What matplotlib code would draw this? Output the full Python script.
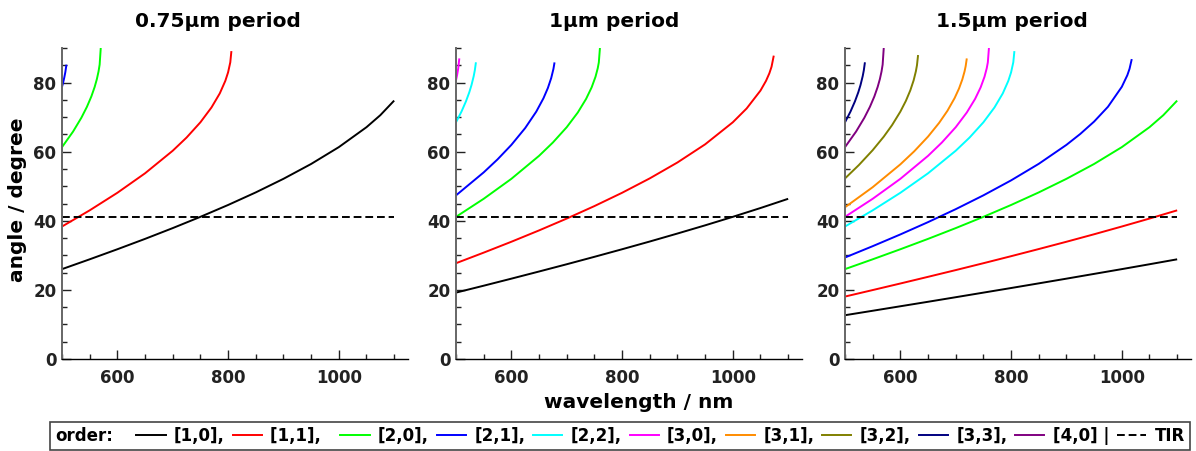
import matplotlib
matplotlib.use("Agg")
import matplotlib.pyplot as plt
from matplotlib.ticker import MultipleLocator
from matplotlib.lines import Line2D
from matplotlib.offsetbox import HPacker

plt.rcParams["font.family"] = ["DejaVu Sans"]
plt.rcParams["font.weight"] = "bold"

# ---------------------------------------------------------------- data
orders = ["[1,0]", "[1,1]", "[2,0]", "[2,1]", "[2,2]",
          "[3,0]", "[3,1]", "[3,2]", "[3,3]", "[4,0]"]
order_colors = ["#000000", "#ff0000", "#00ff00", "#0000ff", "#00ffff",
                "#ff00ff", "#ff8c00", "#808000", "#000080", "#800080"]
period_titles = ["0.75µm period", "1µm period", "1.5µm period"]
tir_deg = 41.1
tir_wl = [500, 1100]

# 0.75 µm period
wl_075_10 = [500, 550, 600, 650, 700, 750, 800, 850, 900, 950, 1000, 1050, 1075, 1100]
deg_075_10 = [26.01, 28.85, 31.76, 34.76, 37.88, 41.14, 44.57, 48.21, 52.14, 56.44, 61.31, 67.08, 70.56, 74.78]
wl_075_11 = [500, 550, 600, 650, 700, 725, 750, 770, 785, 795, 800, 804, 806]
deg_075_11 = [38.34, 43.02, 48.10, 53.74, 60.27, 64.08, 68.50, 72.79, 76.86, 80.49, 82.95, 85.86, 89.10]
wl_075_20 = [500, 520, 535, 545, 553, 559, 563, 566, 568, 570]
deg_075_20 = [61.31, 65.82, 69.82, 72.97, 75.97, 78.73, 81.01, 83.21, 85.20, 90.00]
wl_075_21 = [500, 502, 504, 506, 508]
deg_075_21 = [78.75, 79.96, 81.35, 83.00, 85.18]

# 1 µm period
wl_100_10 = [500, 550, 600, 650, 700, 750, 800, 850, 900, 950, 1000, 1050, 1100]
deg_100_10 = [19.21, 21.21, 23.25, 25.32, 27.42, 29.57, 31.76, 34.00, 36.31, 38.68, 41.14, 43.69, 46.36]
wl_100_11 = [500, 550, 600, 650, 700, 750, 800, 850, 900, 950, 1000, 1025, 1050, 1060, 1066, 1070, 1074]
deg_100_11 = [27.72, 30.78, 33.93, 37.21, 40.64, 44.25, 48.10, 52.27, 56.87, 62.12, 68.50, 72.50, 77.68, 80.49, 82.66, 84.58, 87.79]
wl_100_20 = [500, 550, 600, 650, 675, 700, 720, 735, 745, 752, 756, 758, 760]
deg_100_20 = [41.14, 46.36, 52.14, 58.79, 62.65, 67.08, 71.33, 75.27, 78.60, 81.68, 84.12, 85.84, 90.00]
wl_100_21 = [500, 550, 575, 600, 625, 645, 658, 666, 672, 676, 678]
deg_100_21 = [47.35, 54.00, 57.76, 61.96, 66.84, 71.59, 75.46, 78.44, 81.31, 83.94, 85.83]
wl_100_22 = [500, 510, 518, 524, 528, 532, 534, 536]
deg_100_22 = [68.50, 71.63, 74.57, 77.18, 79.27, 81.87, 83.55, 85.86]
wl_100_30 = [500, 502, 504, 506]
deg_100_30 = [80.67, 82.19, 84.08, 86.99]

# 1.5 µm period
wl_150_10 = [500, 550, 600, 650, 700, 750, 800, 850, 900, 950, 1000, 1050, 1100]
deg_150_10 = [12.67, 13.96, 15.26, 16.56, 17.88, 19.21, 20.54, 21.89, 23.25, 24.63, 26.01, 27.42, 28.85]
wl_150_11 = [500, 550, 600, 650, 700, 750, 800, 850, 900, 950, 1000, 1050, 1100]
deg_150_11 = [18.07, 19.95, 21.85, 23.78, 25.73, 27.72, 29.75, 31.82, 33.93, 36.10, 38.34, 40.64, 43.02]
wl_150_20 = [500, 550, 600, 650, 700, 750, 800, 850, 900, 950, 1000, 1050, 1075, 1100]
deg_150_20 = [26.01, 28.85, 31.76, 34.76, 37.88, 41.14, 44.57, 48.21, 52.14, 56.44, 61.31, 67.08, 70.56, 74.78]
wl_150_21 = [500, 550, 600, 650, 700, 750, 800, 850, 900, 925, 950, 975, 1000, 1010, 1014, 1018]
deg_150_21 = [29.37, 32.65, 36.05, 39.61, 43.36, 47.36, 51.69, 56.48, 61.97, 65.13, 68.71, 72.99, 78.76, 82.13, 83.99, 86.79]
wl_150_22 = [500, 550, 600, 650, 700, 725, 750, 770, 785, 795, 800, 804, 806]
deg_150_22 = [38.34, 43.02, 48.10, 53.74, 60.27, 64.08, 68.50, 72.79, 76.86, 80.49, 82.95, 85.86, 89.10]
wl_150_30 = [500, 550, 600, 650, 675, 700, 720, 735, 745, 752, 756, 758, 760]
deg_150_30 = [41.14, 46.36, 52.14, 58.79, 62.65, 67.08, 71.33, 75.27, 78.60, 81.68, 84.12, 85.84, 90.00]
wl_150_31 = [500, 550, 600, 625, 650, 670, 685, 698, 706, 712, 716, 718, 720]
deg_150_31 = [43.91, 49.72, 56.33, 60.10, 64.36, 68.33, 71.82, 75.50, 78.29, 80.94, 83.25, 84.77, 86.98]
wl_150_32 = [500, 525, 550, 570, 585, 600, 610, 618, 624, 628, 630, 632]
deg_150_32 = [52.25, 56.12, 60.43, 64.34, 67.68, 71.59, 74.71, 77.75, 80.65, 83.24, 85.00, 87.96]
wl_150_33 = [500, 510, 518, 524, 528, 532, 534, 536]
deg_150_33 = [68.50, 71.63, 74.57, 77.18, 79.27, 81.87, 83.55, 85.86]
wl_150_40 = [500, 520, 535, 545, 553, 559, 563, 566, 568, 570]
deg_150_40 = [61.31, 65.82, 69.82, 72.97, 75.97, 78.73, 81.01, 83.21, 85.20, 90.00]

panel_series = [
    [(0, wl_075_10, deg_075_10), (1, wl_075_11, deg_075_11),
     (2, wl_075_20, deg_075_20), (3, wl_075_21, deg_075_21)],
    [(0, wl_100_10, deg_100_10), (1, wl_100_11, deg_100_11),
     (2, wl_100_20, deg_100_20), (3, wl_100_21, deg_100_21),
     (4, wl_100_22, deg_100_22), (5, wl_100_30, deg_100_30)],
    [(0, wl_150_10, deg_150_10), (1, wl_150_11, deg_150_11),
     (2, wl_150_20, deg_150_20), (3, wl_150_21, deg_150_21),
     (4, wl_150_22, deg_150_22), (5, wl_150_30, deg_150_30),
     (6, wl_150_31, deg_150_31), (7, wl_150_32, deg_150_32),
     (8, wl_150_33, deg_150_33), (9, wl_150_40, deg_150_40)],
]

# ---------------------------------------------------------------- figure
W, H = 1196, 451
fig = plt.figure(figsize=(W / 100, H / 100), dpi=100)

ax_left_px = [62, 456, 845]
ax_w_px = 346
ax_bottom_px = 359
ax_top_px = 48
title_x_px = [218, 614, 1012]

LW = 1.4
for p, left in enumerate(ax_left_px):
    ax = fig.add_axes([left / W, (H - ax_bottom_px) / H,
                       ax_w_px / W, (ax_bottom_px - ax_top_px) / H])
    for idx, wl, deg in panel_series[p]:
        ax.plot(wl, deg, color=order_colors[idx], lw=LW, solid_capstyle="butt",
                solid_joinstyle="round")
    ax.hlines(tir_deg, tir_wl[0], tir_wl[1], colors="black", lw=LW,
              linestyles=(0, (4, 2)))

    ax.set_xlim(500, 1125)
    ax.set_ylim(0, 90)
    ax.xaxis.set_major_locator(MultipleLocator(200))
    ax.xaxis.set_minor_locator(MultipleLocator(50))
    ax.yaxis.set_major_locator(MultipleLocator(20))
    ax.yaxis.set_minor_locator(MultipleLocator(5))
    for s in ("top", "right"):
        ax.spines[s].set_visible(False)
    ax.spines["left"].set_color("#666666")
    ax.spines["left"].set_linewidth(1.4)
    ax.spines["bottom"].set_color("black")
    ax.spines["bottom"].set_linewidth(1.0)
    ax.tick_params(which="both", direction="in", colors="#222222", width=1.0,
                   labelsize=12, labelcolor="#222222")
    ax.tick_params(which="major", length=6.5)
    ax.tick_params(which="minor", length=3.6)
    ax.tick_params(axis="y", pad=4)
    ax.tick_params(axis="x", pad=7)
    for lab in ax.get_xticklabels() + ax.get_yticklabels():
        lab.set_fontweight("bold")

    fig.text(title_x_px[p] / W, (H - 27) / H, period_titles[p],
             ha="center", va="baseline", fontsize=14.5, fontweight="bold")

fig.text(639 / W, (H - 402) / H, "wavelength / nm", ha="center", va="center",
         fontsize=14.5, fontweight="bold")
fig.text(18 / W, (H - 200) / H, "angle / degree", ha="center", va="center",
         rotation=90, fontsize=14.5, fontweight="bold")

# ---------------------------------------------------------------- legend
legend_labels = ["[1,0],", "[1,1],  ", "[2,0],", "[2,1],", "[2,2],",
                 "[3,0],", "[3,1],", "[3,2],", "[3,3],", "[4,0] |", "TIR"]
handles = [Line2D([], [], color=c, lw=LW) for c in order_colors]
handles.append(Line2D([], [], color="black", lw=LW, ls=(0, (4, 2))))
leg = fig.legend(handles, legend_labels, ncol=len(handles), loc="lower left",
                 bbox_to_anchor=(50 / W, 1 / H), borderaxespad=0,
                 title="order:", fontsize=12, title_fontsize=12,
                 prop={"weight": "bold", "size": 12},
                 handlelength=1.75, handletextpad=0.5, columnspacing=0.47,
                 borderpad=0.3, fancybox=False, framealpha=1,
                 edgecolor="#444444")
leg.get_title().set_fontweight("bold")
leg.get_frame().set_linewidth(1.2)
# put the title on the same row as the entries
box = leg._legend_box
title_box, entries_box = box.get_children()
box._children = [HPacker(pad=0, sep=17, align="center",
                         children=[title_box, entries_box])]
box.set_figure(fig)

fig.savefig("out.png", dpi=100)
